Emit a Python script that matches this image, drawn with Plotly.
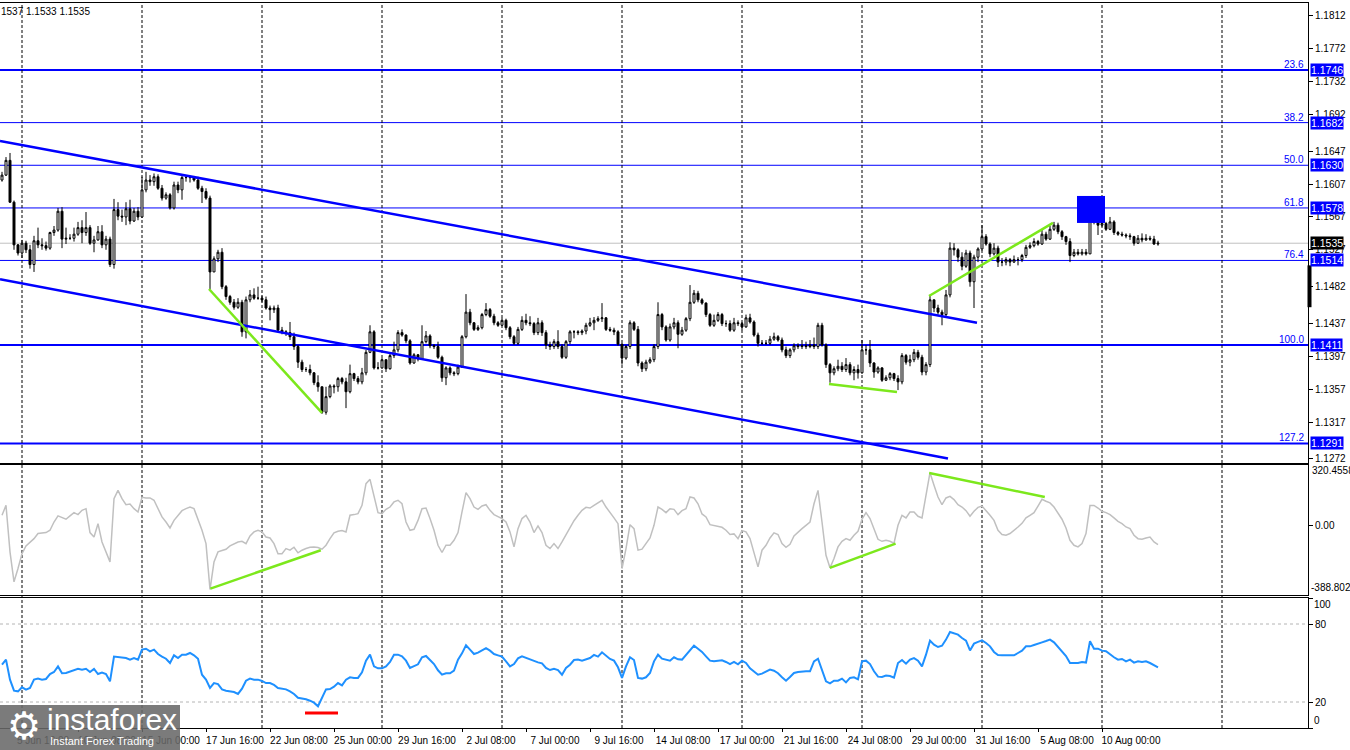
import plotly.graph_objects as go

# ---------------- data (H4 bars, index 0 = 8 Jun 00:00) ----------------
bars = list(range(-5, 285))

close = [
1.1618,1.1636,1.1585,1.1533,1.1523,1.1535,1.1527,1.1509,1.1538,1.1533,
1.1532,1.1529,1.1548,1.1551,1.1574,1.1540,1.1541,1.1541,1.1546,1.1554,
1.1548,1.1554,1.1535,1.1539,1.1549,1.1533,1.1540,1.1509,1.1576,1.1568,
1.1567,1.1577,1.1562,1.1574,1.1567,1.1600,1.1612,1.1610,1.1616,1.1602,
1.1590,1.1594,1.1578,1.1606,1.1600,1.1615,1.1615,1.1615,1.1612,1.1602,
1.1598,1.1590,1.1500,1.1516,1.1524,1.1482,1.1470,1.1463,1.1457,1.1463,
1.1427,1.1466,1.1472,1.1468,1.1468,1.1466,1.1456,1.1454,1.1456,1.1429,
1.1427,1.1426,1.1421,1.1409,1.1390,1.1381,1.1381,1.1377,1.1365,1.1360,
1.1329,1.1348,1.1361,1.1360,1.1370,1.1366,1.1354,1.1376,1.1370,1.1366,
1.1377,1.1402,1.1427,1.1383,1.1383,1.1393,1.1382,1.1398,1.1405,1.1426,
1.1423,1.1416,1.1389,1.1399,1.1394,1.1415,1.1422,1.1410,1.1409,1.1396,
1.1371,1.1383,1.1377,1.1376,1.1384,1.1421,1.1451,1.1438,1.1430,1.1432,
1.1448,1.1454,1.1446,1.1438,1.1435,1.1441,1.1432,1.1421,1.1413,1.1430,
1.1441,1.1438,1.1437,1.1426,1.1438,1.1426,1.1411,1.1409,1.1415,1.1409,
1.1396,1.1415,1.1427,1.1427,1.1426,1.1428,1.1435,1.1438,1.1441,1.1443,
1.1444,1.1430,1.1429,1.1427,1.1412,1.1395,1.1409,1.1438,1.1430,1.1389,
1.1382,1.1390,1.1393,1.1409,1.1448,1.1433,1.1417,1.1433,1.1438,1.1424,
1.1429,1.1443,1.1463,1.1474,1.1466,1.1462,1.1448,1.1435,1.1441,1.1448,
1.1437,1.1437,1.1429,1.1438,1.1437,1.1433,1.1444,1.1439,1.1423,1.1413,
1.1413,1.1413,1.1418,1.1421,1.1417,1.1405,1.1398,1.1405,1.1410,1.1409,
1.1410,1.1409,1.1411,1.1409,1.1435,1.1411,1.1387,1.1377,1.1382,1.1385,
1.1381,1.1387,1.1377,1.1381,1.1377,1.1405,1.1405,1.1389,1.1378,1.1383,
1.1368,1.1371,1.1376,1.1370,1.1366,1.1398,1.1390,1.1393,1.1402,1.1396,
1.1378,1.1387,1.1466,1.1456,1.1451,1.1448,1.1472,1.1529,1.1527,1.1518,
1.1507,1.1523,1.1488,1.1518,1.1528,1.1543,1.1534,1.1522,1.1529,1.1512,
1.1512,1.1515,1.1512,1.1515,1.1515,1.1520,1.1530,1.1532,1.1537,1.1534,
1.1546,1.1540,1.1552,1.1557,1.1549,1.1543,1.1537,1.1520,1.1524,1.1522,
1.1524,1.1522,1.1573,1.1563,1.1557,1.1559,1.1552,1.1561,1.1548,1.1546,
1.1545,1.1544,1.1543,1.1535,1.1541,1.1539,1.1541,1.1540,1.1534,1.1535]

high = [
1.1622,1.1640,1.1645,1.1587,1.1534,1.1539,1.1538,1.1533,1.1544,1.1554,
1.1541,1.1537,1.1549,1.1556,1.1578,1.1579,1.1554,1.1546,1.1554,1.1561,
1.1563,1.1573,1.1557,1.1544,1.1556,1.1557,1.1544,1.1543,1.1589,1.1585,
1.1576,1.1585,1.1588,1.1578,1.1579,1.1616,1.1622,1.1618,1.1620,1.1619,
1.1606,1.1597,1.1596,1.1610,1.1610,1.1618,1.1618,1.1617,1.1617,1.1616,
1.1605,1.1602,1.1593,1.1519,1.1527,1.1529,1.1484,1.1472,1.1467,1.1468,
1.1466,1.1470,1.1478,1.1480,1.1482,1.1471,1.1470,1.1459,1.1459,1.1460,
1.1433,1.1429,1.1439,1.1426,1.1411,1.1393,1.1384,1.1387,1.1378,1.1374,
1.1360,1.1360,1.1363,1.1363,1.1372,1.1372,1.1371,1.1387,1.1377,1.1373,
1.1383,1.1405,1.1435,1.1429,1.1390,1.1395,1.1393,1.1402,1.1415,1.1429,
1.1430,1.1424,1.1418,1.1401,1.1400,1.1435,1.1428,1.1424,1.1412,1.1415,
1.1398,1.1385,1.1385,1.1379,1.1387,1.1423,1.1473,1.1455,1.1439,1.1435,
1.1450,1.1462,1.1456,1.1449,1.1440,1.1444,1.1443,1.1434,1.1423,1.1433,
1.1446,1.1449,1.1446,1.1439,1.1444,1.1441,1.1429,1.1415,1.1418,1.1429,
1.1412,1.1417,1.1429,1.1429,1.1429,1.1430,1.1438,1.1444,1.1445,1.1446,
1.1462,1.1445,1.1433,1.1432,1.1429,1.1413,1.1411,1.1441,1.1440,1.1434,
1.1391,1.1393,1.1396,1.1412,1.1463,1.1450,1.1435,1.1437,1.1444,1.1441,
1.1433,1.1445,1.1484,1.1478,1.1477,1.1468,1.1463,1.1450,1.1448,1.1451,
1.1450,1.1441,1.1441,1.1444,1.1441,1.1439,1.1448,1.1449,1.1441,1.1426,
1.1417,1.1417,1.1422,1.1426,1.1423,1.1420,1.1409,1.1407,1.1413,1.1413,
1.1417,1.1415,1.1417,1.1420,1.1438,1.1438,1.1413,1.1389,1.1385,1.1393,
1.1390,1.1395,1.1390,1.1385,1.1387,1.1417,1.1411,1.1417,1.1390,1.1385,
1.1384,1.1374,1.1378,1.1377,1.1374,1.1401,1.1400,1.1399,1.1406,1.1405,
1.1399,1.1390,1.1472,1.1466,1.1460,1.1454,1.1478,1.1536,1.1535,1.1529,
1.1524,1.1527,1.1526,1.1521,1.1530,1.1557,1.1546,1.1536,1.1535,1.1532,
1.1517,1.1518,1.1517,1.1520,1.1518,1.1522,1.1533,1.1536,1.1541,1.1539,
1.1551,1.1549,1.1556,1.1561,1.1560,1.1551,1.1544,1.1541,1.1528,1.1528,
1.1528,1.1528,1.1579,1.1577,1.1567,1.1562,1.1561,1.1567,1.1563,1.1550,
1.1549,1.1547,1.1547,1.1544,1.1545,1.1547,1.1546,1.1544,1.1544,1.1538]

low = [
1.1610,1.1617,1.1584,1.1527,1.1520,1.1517,1.1523,1.1504,1.1500,1.1529,
1.1527,1.1526,1.1527,1.1544,1.1549,1.1529,1.1534,1.1539,1.1537,1.1544,
1.1535,1.1544,1.1533,1.1524,1.1538,1.1529,1.1527,1.1506,1.1504,1.1563,
1.1561,1.1557,1.1558,1.1561,1.1563,1.1566,1.1597,1.1605,1.1605,1.1600,
1.1587,1.1588,1.1576,1.1576,1.1596,1.1588,1.1610,1.1609,1.1610,1.1600,
1.1584,1.1588,1.1479,1.1500,1.1512,1.1479,1.1466,1.1460,1.1454,1.1455,
1.1421,1.1419,1.1463,1.1466,1.1466,1.1463,1.1454,1.1441,1.1450,1.1427,
1.1424,1.1422,1.1417,1.1405,1.1383,1.1378,1.1378,1.1374,1.1362,1.1354,
1.1327,1.1326,1.1346,1.1352,1.1354,1.1363,1.1334,1.1352,1.1367,1.1363,
1.1363,1.1374,1.1401,1.1381,1.1381,1.1382,1.1378,1.1381,1.1395,1.1402,
1.1421,1.1413,1.1387,1.1388,1.1391,1.1393,1.1413,1.1407,1.1406,1.1394,
1.1366,1.1362,1.1374,1.1373,1.1374,1.1383,1.1419,1.1435,1.1428,1.1428,
1.1430,1.1446,1.1444,1.1435,1.1433,1.1434,1.1429,1.1418,1.1411,1.1411,
1.1428,1.1435,1.1434,1.1423,1.1423,1.1422,1.1406,1.1405,1.1406,1.1406,
1.1394,1.1394,1.1412,1.1419,1.1423,1.1423,1.1424,1.1433,1.1429,1.1439,
1.1439,1.1428,1.1427,1.1423,1.1410,1.1387,1.1393,1.1406,1.1428,1.1385,
1.1378,1.1379,1.1388,1.1390,1.1406,1.1429,1.1415,1.1415,1.1430,1.1407,
1.1422,1.1427,1.1440,1.1461,1.1463,1.1460,1.1445,1.1433,1.1433,1.1439,
1.1434,1.1433,1.1427,1.1427,1.1434,1.1429,1.1432,1.1437,1.1421,1.1409,
1.1411,1.1411,1.1411,1.1416,1.1415,1.1402,1.1395,1.1395,1.1402,1.1406,
1.1406,1.1406,1.1407,1.1406,1.1406,1.1409,1.1383,1.1365,1.1374,1.1379,
1.1378,1.1378,1.1374,1.1368,1.1370,1.1376,1.1399,1.1384,1.1371,1.1376,
1.1366,1.1367,1.1368,1.1367,1.1356,1.1363,1.1387,1.1385,1.1390,1.1393,
1.1374,1.1374,1.1384,1.1451,1.1448,1.1435,1.1445,1.1469,1.1520,1.1512,
1.1502,1.1505,1.1482,1.1456,1.1512,1.1526,1.1532,1.1518,1.1520,1.1506,
1.1507,1.1508,1.1507,1.1511,1.1508,1.1512,1.1517,1.1528,1.1530,1.1532,
1.1533,1.1538,1.1539,1.1550,1.1546,1.1539,1.1533,1.1512,1.1518,1.1520,
1.1520,1.1520,1.1522,1.1558,1.1545,1.1555,1.1550,1.1551,1.1545,1.1544,
1.1543,1.1541,1.1539,1.1532,1.1534,1.1536,1.1538,1.1538,1.1533,1.1532]

first_open = 1.1612

cci = [
62,122,-160,-342,-261,-171,-124,-100,-80,-49,
-45,-43,-29,21,58,46,38,58,78,66,
92,102,-43,-70,11,-100,-160,-221,163,213,
163,126,130,102,82,171,167,167,153,102,
52,21,-15,31,58,90,102,112,102,38,
-29,-110,-388.8028,-221,-160,-152,-144,-124,-110,-100,
-96,-110,-63,-39,-29,-39,-70,-76,-110,-171,
-171,-140,-150,-132,-166,-150,-140,-132,-130,-134,
-144,-120,-80,-45,-35,-31,-39,62,66,72,
122,254,280,183,78,72,98,112,143,153,
132,21,-29,-23,31,102,106,42,-29,-120,
-164,-120,-120,-90,-43,82,199,163,112,98,
118,126,92,66,52,42,21,-39,-130,-19,
42,62,21,-43,-3,-43,-120,-140,-110,-140,
-100,-55,-9,29,62,92,110,106,122,139,
153,112,82,46,11,-261,-140,5,-19,-150,
-144,-110,-76,1,112,98,78,102,98,66,
90,102,173,167,132,70,52,5,1,-3,
-11,-29,-55,-51,-80,-31,-39,-80,-160,-251,
-150,-120,-76,-45,-55,-110,-132,-114,-63,-39,
-19,1,21,132,213,21,-181,-257,-201,-130,
-96,-80,-90,-59,-35,38,78,42,-19,-84,
-96,-90,-96,-108,1,62,46,82,82,56,
46,183,320.4558,244,173,126,167,177,157,126,
112,90,56,86,110,118,92,62,31,-29,
-55,-59,-49,-31,-9,13,46,62,78,118,
159,147,137,112,72,38,-15,-90,-120,-130,
-110,-49,122,122,106,86,78,66,46,25,
11,-9,-19,-59,-80,-84,-76,-70,-100,-116]

rsi = [
48.7,52.6,37.2,28.7,28.2,31.3,29.5,30.8,37.2,38.0,
37.2,37.7,41.5,43.1,47.4,42.1,42.3,43.3,44.6,45.6,
44.9,45.6,43.1,45.4,41.5,42.6,41.5,35.9,54.9,54.4,
54.1,53.8,52.6,53.8,52.6,60.3,61.0,59.0,60.3,56.9,
54.9,53.3,50.0,55.9,53.8,56.4,56.4,57.7,55.9,53.3,
41.0,37.2,30.8,34.6,33.8,29.7,28.7,28.2,27.7,26.2,
30.3,36.4,38.0,37.2,37.2,36.2,34.6,34.6,33.1,30.8,
30.3,29.7,28.2,26.2,23.3,22.8,22.1,21.0,19.5,16.7,
23.1,29.7,30.0,31.8,34.6,32.8,37.2,39.0,38.5,38.5,
42.8,51.8,56.4,47.4,45.9,45.9,47.4,50.8,56.4,56.4,
55.1,51.8,46.2,47.4,49.0,54.4,55.4,52.3,49.2,44.4,
41.0,42.1,42.1,44.1,52.6,57.4,63.6,60.3,56.9,58.0,
60.0,61.5,59.5,56.9,55.9,54.9,51.3,47.4,49.2,53.6,
55.1,53.8,52.6,51.8,50.5,49.7,46.2,44.6,45.6,44.6,
41.0,46.2,48.7,52.3,52.6,51.8,52.6,53.8,56.2,54.9,
58.2,55.9,53.1,51.8,46.7,38.5,47.4,54.4,52.3,38.5,
38.0,39.0,42.3,51.3,56.4,53.3,52.6,51.8,54.4,52.8,
52.6,56.4,60.3,63.3,61.0,58.5,55.1,51.8,51.3,51.8,
52.1,50.8,49.2,50.8,49.0,51.8,50.0,45.9,43.1,41.0,
41.8,43.6,44.9,44.1,42.1,39.0,36.4,39.2,42.3,43.1,
43.6,43.6,43.6,51.3,53.3,44.1,35.9,34.4,36.4,36.4,
38.0,35.1,38.5,39.0,37.4,51.3,51.8,49.2,43.6,39.5,
39.2,40.3,40.0,38.7,50.0,52.3,49.5,52.6,53.8,51.8,
47.4,56.4,67.2,64.1,62.3,63.3,68.0,73.8,72.6,71.8,
69.2,67.2,59.7,64.9,66.2,67.4,65.4,62.8,58.5,56.2,
55.9,55.9,55.9,55.9,57.7,59.5,62.8,62.8,63.8,64.6,
65.9,66.9,68.0,65.9,62.1,58.5,55.4,50.0,50.0,50.0,
50.8,50.3,66.7,61.0,61.0,59.5,59.0,56.4,54.4,52.6,
53.1,51.3,52.6,50.3,51.3,50.8,51.3,50.0,48.2,46.7]

# x-axis labels (every 16 bars)
label_bars = [-2, 14, 30, 46, 62, 78, 94, 110, 126, 142, 158, 174, 190, 206, 222, 238, 254, 270]
label_text = ["5 Jun 16:00", "10 Jun 08:00", "15 Jun 00:00", "17 Jun 16:00", "22 Jun 08:00",
              "25 Jun 00:00", "29 Jun 16:00", "2 Jul 08:00", "7 Jul 00:00", "9 Jul 16:00",
              "14 Jul 08:00", "17 Jul 00:00", "21 Jul 16:00", "24 Jul 08:00", "29 Jul 00:00",
              "31 Jul 16:00", "5 Aug 08:00", "10 Aug 00:00"]
week_starts = [0, 30, 60, 90, 120, 150, 180, 210, 240, 270, 300]

price_ticks = [1.1812, 1.1772, 1.1732, 1.1692, 1.1647, 1.1607, 1.1567, 1.1527,
               1.1482, 1.1437, 1.1397, 1.1357, 1.1317, 1.1272]

fib_levels = ["23.6", "38.2", "50.0", "61.8", "76.4", "100.0", "127.2"]
fib_prices = [1.1746, 1.1682, 1.1630, 1.1578, 1.1514, 1.1411, 1.1291]
fib_widths = [2, 1, 1, 1, 1, 2, 2]
last_price = 1.1535

# trend objects drawn on the chart (bar index, value)
channel_upper_x = [-5.5, 238.75]
channel_upper_y = [1.16596, 1.14381]
channel_lower_x = [-5.5, 231.5]
channel_lower_y = [1.14910, 1.12726]
green_price = [([46.75, 75.0], [1.14792, 1.13281]),
               ([201.75, 218.75], [1.13634, 1.13537]),
               ([226.75, 257.75], [1.14707, 1.15597])]
green_cci = [([47.1, 74.7], [-383, -150]),
             ([201.95, 218.4], [-257, -110]),
             ([226.8, 255.7], [318, 173])]
red_rsi = ([70.75, 79.0], [11.5, 11.5])
zone_x = [263.75, 270.75]
zone_y = [1.15597, 1.15926]

# ---------------- figure ----------------
open_ = [first_open] + close[:-1]
BLUE = "#0000FF"
GREEN = "#7CE81C"
FONT = "Liberation Sans"

fig = go.Figure()

fig.add_trace(go.Candlestick(
    x=bars, open=open_, high=high, low=low, close=close,
    increasing=dict(line=dict(color="black", width=1), fillcolor="white"),
    decreasing=dict(line=dict(color="black", width=1), fillcolor="black"),
    whiskerwidth=0, xaxis="x", yaxis="y", showlegend=False, hoverinfo="skip"))

fig.add_trace(go.Scatter(x=channel_upper_x, y=channel_upper_y, mode="lines",
                         line=dict(color=BLUE, width=2.5), xaxis="x", yaxis="y",
                         showlegend=False, hoverinfo="skip"))
fig.add_trace(go.Scatter(x=channel_lower_x, y=channel_lower_y, mode="lines",
                         line=dict(color=BLUE, width=2.5), xaxis="x", yaxis="y",
                         showlegend=False, hoverinfo="skip"))
for gx, gy in green_price:
    fig.add_trace(go.Scatter(x=gx, y=gy, mode="lines", line=dict(color=GREEN, width=2.5),
                             xaxis="x", yaxis="y", showlegend=False, hoverinfo="skip"))

fig.add_trace(go.Scatter(x=bars, y=cci, mode="lines", line=dict(color="#C0C0C0", width=1.5),
                         xaxis="x2", yaxis="y2", showlegend=False, hoverinfo="skip"))
for gx, gy in green_cci:
    fig.add_trace(go.Scatter(x=gx, y=gy, mode="lines", line=dict(color=GREEN, width=2.5),
                             xaxis="x2", yaxis="y2", showlegend=False, hoverinfo="skip"))

fig.add_trace(go.Scatter(x=bars, y=rsi, mode="lines", line=dict(color="#1E90FF", width=2),
                         xaxis="x3", yaxis="y3", showlegend=False, hoverinfo="skip"))
fig.add_trace(go.Scatter(x=red_rsi[0], y=red_rsi[1], mode="lines", line=dict(color="#FF0000", width=3),
                         xaxis="x3", yaxis="y3", showlegend=False, hoverinfo="skip"))

# ---------------- layout geometry ----------------
W, H = 1350, 750
ML, MR, MT, MB = 0, 42, 3, 22
plot_w = W - ML - MR
plot_h = H - MT - MB


def py(pix):
    return (H - MB - pix) / plot_h


def px(pix):
    return (pix - ML) / plot_w


price_dom = [py(463), 1.0]
cci_dom = [py(595), py(465)]
rsi_dom = [0.0, py(598)]

xrange = [-5.5, 321.5]
common_x = dict(range=xrange, showgrid=False, zeroline=False, showline=True, mirror=True,
                linecolor="black", linewidth=1, fixedrange=True)
common_y = dict(side="right", showgrid=False, zeroline=False, showline=True, mirror=True,
                linecolor="black", linewidth=1, ticks="outside", ticklen=4, tickcolor="black",
                tickfont=dict(family=FONT, size=10, color="black"))

fig.update_layout(
    width=W, height=H,
    margin=dict(l=ML, r=MR, t=MT, b=MB),
    paper_bgcolor="white", plot_bgcolor="white",
    showlegend=False,
    font=dict(family=FONT, size=10, color="black"),
    xaxis=dict(common_x, anchor="y", showticklabels=False, rangeslider=dict(visible=False)),
    xaxis2=dict(common_x, anchor="y2", matches="x", showticklabels=False),
    xaxis3=dict(common_x, anchor="y3", matches="x", tickmode="array", tickvals=label_bars,
                ticktext=label_text, ticks="outside", ticklen=3, tickcolor="black",
                ticklabelshift=29, tickfont=dict(family=FONT, size=10, color="black")),
    yaxis=dict(common_y, domain=price_dom, anchor="x", range=[1.12671, 1.18278],
               tickmode="array", tickvals=price_ticks, ticktext=[f"{v:.4f}" for v in price_ticks]),
    yaxis2=dict(common_y, domain=cci_dom, anchor="x2", range=[-421.9, 367.1],
                tickmode="array", tickvals=[0], ticktext=["0.00"]),
    yaxis3=dict(common_y, domain=rsi_dom, anchor="x3", range=[0, 100],
                tickmode="array", tickvals=[0, 20, 80, 100], ticktext=["", "20", "80", ""]),
)

shapes = []
# fibo lines
for p, w in zip(fib_prices, fib_widths):
    shapes.append(dict(type="line", xref="paper", yref="y", x0=0, x1=1, y0=p, y1=p,
                       line=dict(color=BLUE, width=w), layer="below"))
# current price line
shapes.append(dict(type="line", xref="paper", yref="y", x0=0, x1=1, y0=last_price, y1=last_price,
                   line=dict(color="#C0C0C0", width=1), layer="below"))
# weekly separators
for wk in week_starts:
    shapes.append(dict(type="line", xref="x", yref="paper", x0=wk, x1=wk, y0=0, y1=1,
                       line=dict(color="black", width=1, dash="3px,2px"), layer="below"))
# RSI 80 / 20 levels
for lv in [80, 20]:
    shapes.append(dict(type="line", xref="paper", yref="y3", x0=0, x1=1, y0=lv, y1=lv,
                       line=dict(color="#B4B4B4", width=1, dash="3px,3px"), layer="below"))
# blue zone (drawn over the candles as in the terminal)
shapes.append(dict(type="rect", xref="x", yref="y", x0=zone_x[0], x1=zone_x[1],
                   y0=zone_y[0], y1=zone_y[1], fillcolor=BLUE, line=dict(width=0), layer="above"))
# chart shift marker on the price scale
shapes.append(dict(type="line", xref="paper", yref="y", x0=px(1309.5), x1=px(1309.5),
                   y0=1.1457, y1=1.1508, line=dict(color="black", width=4)))
# watermark box
shapes.append(dict(type="rect", xref="paper", yref="paper", x0=0, x1=px(180),
                   y0=py(750), y1=py(705), fillcolor="rgba(105,105,105,0.88)",
                   line=dict(width=0), layer="above"))
fig.update_layout(shapes=shapes)

ann = []
# fibo level names
for name, p in zip(fib_levels, fib_prices):
    ann.append(dict(xref="paper", yref="y", x=1, y=p, xanchor="right", yanchor="bottom",
                    xshift=-2, yshift=-2, text=name, showarrow=False,
                    font=dict(family=FONT, size=10, color=BLUE)))
    ann.append(dict(xref="paper", yref="y", x=1, y=p, xanchor="left", yanchor="middle",
                    xshift=2, text=f"{p:.4f}", showarrow=False, bgcolor=BLUE, borderpad=0,
                    font=dict(family=FONT, size=10.5, color="white")))
ann.append(dict(xref="paper", yref="y", x=1, y=last_price, xanchor="left", yanchor="middle",
                xshift=2, text=f"{last_price:.4f}", showarrow=False, bgcolor="black", borderpad=0,
                font=dict(family=FONT, size=10.5, color="white")))
# CCI extremes
ann.append(dict(xref="paper", yref="y2 domain", x=1, y=1, xanchor="left", yanchor="top",
                xshift=2, yshift=2, text="320.4558", showarrow=False,
                font=dict(family=FONT, size=10, color="black")))
ann.append(dict(xref="paper", yref="y2 domain", x=1, y=0, xanchor="left", yanchor="bottom",
                xshift=1, yshift=0, text="-388.8028", showarrow=False,
                font=dict(family=FONT, size=10, color="black")))
# RSI extremes
ann.append(dict(xref="paper", yref="y3 domain", x=1, y=1, xanchor="left", yanchor="top",
                xshift=4, yshift=1, text="100", showarrow=False,
                font=dict(family=FONT, size=10, color="black")))
ann.append(dict(xref="paper", yref="y3 domain", x=1, y=0, xanchor="left", yanchor="bottom",
                xshift=4, yshift=0, text="0", showarrow=False,
                font=dict(family=FONT, size=10, color="black")))
# top-left OHLC text
ann.append(dict(xref="paper", yref="paper", x=0, y=py(11), xanchor="left", yanchor="middle",
                text="1537 1.1533 1.1535", showarrow=False, xshift=-1,
                font=dict(family=FONT, size=10, color="black")))
# watermark text
ann.append(dict(xref="paper", yref="paper", x=px(24), y=py(726), xanchor="center", yanchor="middle",
                text="⚙", showarrow=False, font=dict(family="DejaVu Sans", size=38, color="white")))
ann.append(dict(xref="paper", yref="paper", x=px(45), y=py(719), xanchor="left", yanchor="middle",
                text="instaforex", showarrow=False, font=dict(family=FONT, size=30, color="white")))
ann.append(dict(xref="paper", yref="paper", x=px(48), y=py(741), xanchor="left", yanchor="middle",
                text="Instant Forex Trading", showarrow=False,
                font=dict(family=FONT, size=11, color="white")))
fig.update_layout(annotations=ann)

fig.write_html("out.html", config={"displayModeBar": False, "staticPlot": True},
               post_script="document.body.style.margin='0';document.body.style.overflow='hidden';")
